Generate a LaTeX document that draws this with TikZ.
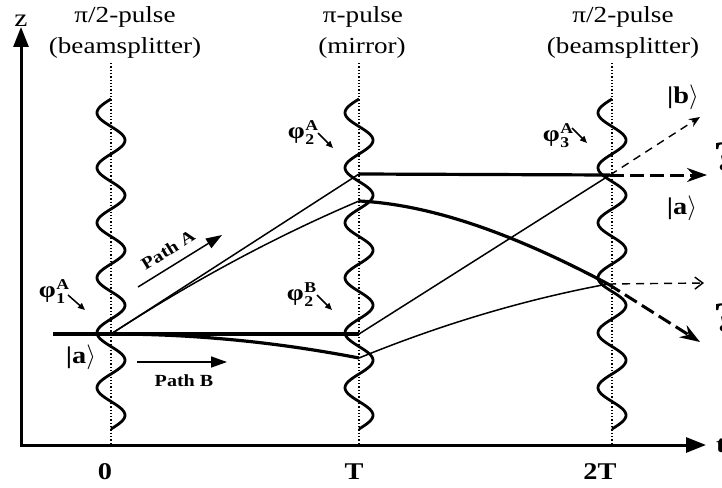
\documentclass[tikz,border=0pt]{standalone}
\usepackage{fontspec}
\setmainfont{Liberation Serif}[FakeStretch=1.18]
\usetikzlibrary{arrows.meta}
\newcommand{\phitext}[2]{\bfseries\fontsize{23}{23}\selectfont φ\kern0.5pt\rlap{\raisebox{8pt}{\fontsize{15}{15}\selectfont #1}}\raisebox{-6pt}{\fontsize{15}{15}\selectfont #2}}
\begin{document}
\begin{tikzpicture}[x=1pt,y=-1pt,
  axisline/.style={line width=3pt, {Triangle[length=20pt,width=15pt]}-{Triangle[length=20pt,width=15pt]}},
  wave/.style={line width=2.8pt},
  dotline/.style={line width=1.3pt, dash pattern=on 1.3pt off 2pt},
  thinpath/.style={line width=1.5pt},
  thickpath/.style={line width=3.2pt},
  thickdash/.style={line width=3pt, dash pattern=on 14pt off 6pt, -{Stealth[length=20pt,width=14pt]}},
  thindash/.style={line width=1.4pt, dash pattern=on 8pt off 6pt, -{Straight Barb[length=8pt,width=12pt]}},
  thindashb/.style={line width=1.4pt, dash pattern=on 8pt off 6pt, -{Stealth[length=11pt,width=9pt]}},
  toplab/.style={font=\fontsize{23}{23}\selectfont, inner sep=0pt, anchor=base},
  axlab/.style={font=\bfseries\fontsize{24}{24}\selectfont, inner sep=0pt, anchor=base},
  pathlab/.style={font=\bfseries\fontsize{17}{17}\selectfont, inner sep=0pt},
  pharrow/.style={line width=1.5pt, -{Triangle[length=7pt,width=6pt]}},
  patharrow/.style={line width=1.5pt, -{Triangle[length=16pt,width=11pt]}},
  ket/.style={font=\bfseries\fontsize{24}{24}\selectfont, inner sep=0pt},
  qm/.style={font=\bfseries\fontsize{42}{42}\selectfont, inner sep=0pt, anchor=west},
  phil/.style={inner sep=0pt}
]
\useasboundingbox (0,0) rectangle (722,487);
% axes
\coordinate (O) at (21,445);
\coordinate (ztip) at (21,27);
\coordinate (ttip) at (706,445);
\draw[axisline] (ztip) -- (O) -- (ttip);
\node[font=\fontsize{25}{25}\selectfont, inner sep=0pt, anchor=base] (zl) at (21,27) {z};
\node[font=\bfseries\fontsize{24}{24}\selectfont, inner sep=0pt, anchor=base west] (tl) at (716,452) {t};
% dotted lines
\foreach \xx/\nm in {111/d0,359/d1,612/d2}{
  \coordinate (\nm top) at (\xx,63);
  \coordinate (\nm bot) at (\xx,445);
  \draw[dotline] (\nm top) -- (\nm bot);
}
% key points
\coordinate (start) at (53,334);
\coordinate (S) at (111,334);
\coordinate (A1) at (359,174);
\coordinate (B1) at (359,334);
\coordinate (M) at (610,175);
\coordinate (A1c) at (359,201);
\coordinate (B1c) at (359,358);
\coordinate (Mc) at (608,284);
% straight paths
\draw[thickpath] (start) -- (B1);
\draw[thinpath] (S) -- (A1);
\draw[thickpath] (A1) -- (M);
\draw[thinpath] (B1) -- (M);
% curved paths
\draw[thinpath] (S) .. controls (193.7,280.4) and (276.3,236.1) .. (A1c);
\draw[thickpath] (S) .. controls (193.7,334) and (276.3,342) .. (B1c);
\draw[thickpath] (A1c) .. controls (439,205) and (525,240) .. (Mc);
\draw[thinpath] (B1c) .. controls (442,324.1) and (525,299.4) .. (Mc);
% waves
\foreach \xx in {111,359,612}{
  \draw[wave] plot[variable=\t, domain=0:330, samples=241, smooth] ({\xx-14*sin(6.54545*\t)}, {99+\t});
}
% output arrows
\coordinate (o1) at (707,175);
\coordinate (o2) at (700,117);
\coordinate (o3) at (704,283);
\coordinate (o4) at (700,342);
\draw[thickdash] (M) -- (o1);
\draw[thindashb] (M) -- (o2);
\draw[thindash] (Mc) -- (o3);
\draw[thickdash] (Mc) -- (o4);
% top labels
\node[toplab] (p0a) at (125,23) {π/2-pulse};
\node[toplab] (p0b) at (125,53) {(beamsplitter)};
\node[toplab] (p1a) at (363,23) {π-pulse};
\node[toplab] (p1b) at (362,53) {(mirror)};
\node[toplab] (p2a) at (623,23) {π/2-pulse};
\node[toplab] (p2b) at (623,53) {(beamsplitter)};
% axis labels
\node[axlab] (l0) at (105,479) {0};
\node[axlab] (l1) at (354,479) {T};
\node[axlab] (l2) at (600,479) {2T};
% kets
\node[ket] (ka) at (81,357) {|a$\rangle$};
\node[ket] (kb) at (683,97) {|b$\rangle$};
\node[ket] (ka2) at (682,208) {|a$\rangle$};
\node[qm] (q1) at (713,157) {?};
\node[qm] (q2) at (713,318) {?};
% path labels
\coordinate (pa1) at (138,287);
\coordinate (pa2) at (222,235);
\draw[patharrow] (pa1) -- (pa2);
\node[pathlab, rotate=31.8] (pal) at (168,250) {Path A};
\coordinate (pb1) at (137,362);
\coordinate (pb2) at (227,362);
\draw[patharrow] (pb1) -- (pb2);
\node[pathlab, anchor=base] (pbl) at (184,386) {Path B};
% phase labels
\node[phil] (f1) at (52,292) {\phitext{A}{1}};
\coordinate (f1s) at (68,295); \coordinate (f1e) at (85,310);
\draw[pharrow] (f1s) -- (f1e);
\node[phil] (f2) at (301,133) {\phitext{A}{2}};
\coordinate (f2s) at (318,133); \coordinate (f2e) at (333,148);
\draw[pharrow] (f2s) -- (f2e);
\node[phil] (f3) at (300,295) {\phitext{B}{2}};
\coordinate (f3s) at (317,295); \coordinate (f3e) at (332,310);
\draw[pharrow] (f3s) -- (f3e);
\node[phil] (f4) at (556,136) {\phitext{A}{3}};
\coordinate (f4s) at (572,128); \coordinate (f4e) at (587,143);
\draw[pharrow] (f4s) -- (f4e);
\end{tikzpicture}
\end{document}
